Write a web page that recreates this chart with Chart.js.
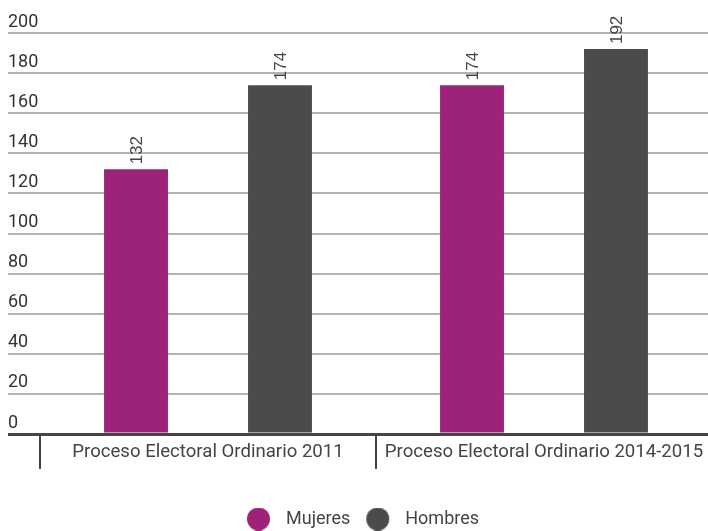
<!DOCTYPE html>
<html>
<head>
<meta charset="utf-8">
<script src="https://cdn.jsdelivr.net/npm/chart.js@4"></script>
<style>
  html, body { margin: 0; padding: 0; background: #fff; overflow: hidden; }
  #wrap { width: 712px; height: 531px; }
</style>
</head>
<body>
<div id="wrap"><canvas id="chart"></canvas></div>
<script>
const procesos = ["Proceso Electoral Ordinario 2011", "Proceso Electoral Ordinario 2014-2015"];
const mujeres = [132, 174];
const hombres = [174, 192];
const colorMujeres = "#9d2279";
const colorHombres = "#4b4b4b";

// valores girados encima de cada barra
const etiquetasValor = {
    id: "etiquetasValor",
    afterDatasetsDraw(chart) {
        const ctx = chart.ctx;
        ctx.save();
        ctx.font = "17px 'Liberation Sans', Arial, sans-serif";
        ctx.fillStyle = "#444";
        ctx.textAlign = "left";
        ctx.textBaseline = "middle";
        chart.data.datasets.forEach((ds, i) => {
            chart.getDatasetMeta(i).data.forEach((bar, j) => {
                ctx.save();
                ctx.translate(bar.x + 1, bar.y - 5);
                ctx.rotate(-Math.PI / 2);
                ctx.fillText(String(ds.data[j]), 0, 0);
                ctx.restore();
            });
        });
        ctx.restore();
    }
};

// círculo de la leyenda con márgenes a los lados
function circuloLeyenda(color) {
    const c = document.createElement("canvas");
    c.width = 36;
    c.height = 23;
    const g = c.getContext("2d");
    g.fillStyle = color;
    g.beginPath();
    g.arc(17.5, 11.5, 11.5, 0, Math.PI * 2);
    g.fill();
    return c;
}

new Chart(document.getElementById("chart").getContext("2d"), {
    type: "bar",
    data: {
        labels: procesos,
        datasets: [
            { label: "Mujeres", data: mujeres, backgroundColor: colorMujeres },
            { label: "Hombres", data: hombres, backgroundColor: colorHombres }
        ]
    },
    options: {
        responsive: true,
        maintainAspectRatio: false,
        animation: false,
        categoryPercentage: 0.857,
        barPercentage: 0.444,
        layout: { padding: { left: 8, top: 33, right: 0, bottom: -7 } },
        scales: {
            x: {
                border: { display: false },
                grid: {
                    drawOnChartArea: false,
                    drawTicks: true,
                    tickLength: 35,
                    color: "#444",
                    lineWidth: 2
                },
                ticks: {
                    padding: -28,
                    color: "#444",
                    font: { family: "Roboto", size: 18.6 }
                },
                afterFit: s => { s.height = 66; }
            },
            y: {
                min: 0,
                max: 200,
                border: { display: false },
                grid: {
                    tickLength: 32,
                    color: c => c.tick && c.tick.value === 0 ? "#444" : "#b3b3b3",
                    lineWidth: c => c.tick && c.tick.value === 0 ? 3 : 2
                },
                ticks: {
                    stepSize: 20,
                    crossAlign: "far",
                    labelOffset: -11,
                    color: "#333",
                    font: { family: "Roboto", size: 18 }
                },
                afterFit: s => { s.width = 32; }
            }
        },
        plugins: {
            tooltip: { enabled: false },
            legend: {
                position: "bottom",
                labels: {
                    usePointStyle: true,
                    pointStyleWidth: 36,
                    boxHeight: 16,
                    padding: 10,
                    color: "#444",
                    font: { family: "Roboto", size: 18 },
                    generateLabels: chart => Chart.defaults.plugins.legend.labels.generateLabels(chart)
                        .map(item => Object.assign(item, { pointStyle: circuloLeyenda(item.fillStyle) }))
                }
            }
        }
    },
    plugins: [etiquetasValor]
});
</script>
</body>
</html>
